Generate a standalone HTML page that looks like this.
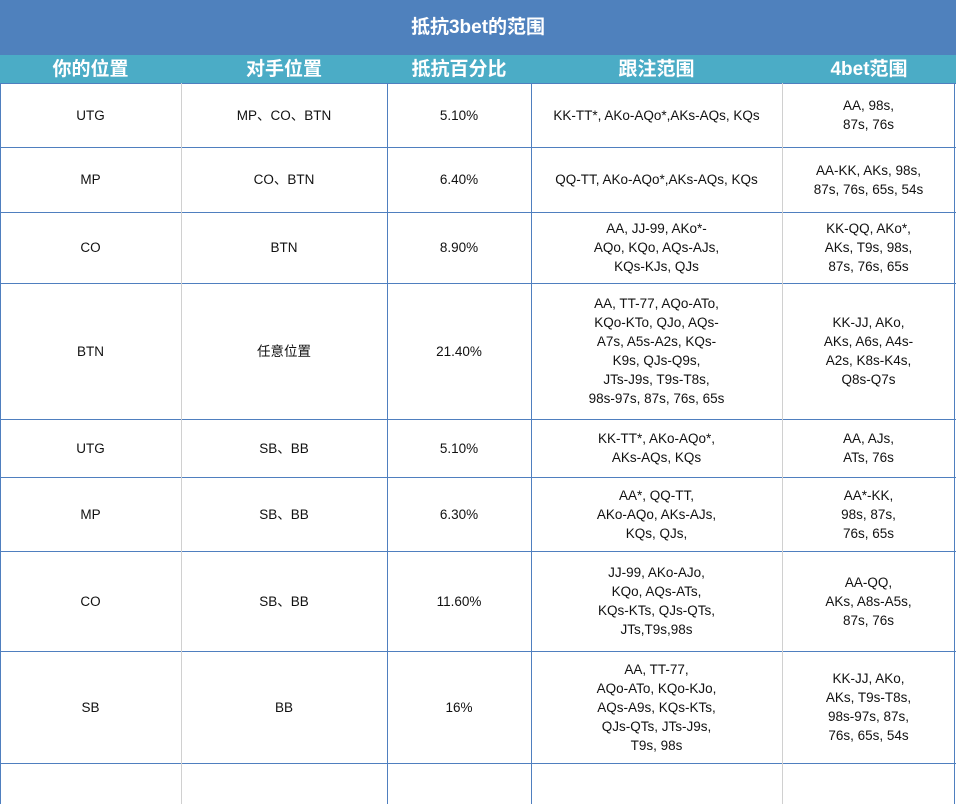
<!DOCTYPE html>
<html><head><meta charset="utf-8"><style>
body{margin:0;width:956px;height:804px;overflow:hidden;background:#fff;font-family:"Liberation Sans","Noto Sans CJK SC",sans-serif}
.c{position:absolute;display:flex;align-items:center;justify-content:center;text-align:center;box-sizing:border-box;font-size:13.5px;line-height:19px;color:#111}
.h{color:#fff;font-weight:bold;font-size:19px;background:#4bacc6}
.hl{position:absolute;left:0;width:956px;height:1px;background:#4f7fbf}
.vl{position:absolute;width:1px}
</style></head><body>
<div class="c" style="left:0;top:0;width:956px;height:55px;background:#4f81bd;color:#fff;font-weight:bold;font-size:19px">抵抗3bet的范围</div>
<div class="c h" style="left:0;top:55px;width:181px;height:28px">你的位置</div>
<div class="c h" style="left:181px;top:55px;width:206px;height:28px">对手位置</div>
<div class="c h" style="left:387px;top:55px;width:144px;height:28px">抵抗百分比</div>
<div class="c h" style="left:531px;top:55px;width:251px;height:28px">跟注范围</div>
<div class="c h" style="left:782px;top:55px;width:174px;height:28px">4bet范围</div>
<div id="rows"></div>
<script>
const tops=[83,147,212,283,419,477,551,651,763,804];
const cols=[0,181,387,531,782,955];
const data=[
["UTG","MP、CO、BTN","5.10%","KK-TT*, AKo-AQo*,AKs-AQs, KQs","AA, 98s,<br>87s, 76s"],
["MP","CO、BTN","6.40%","QQ-TT, AKo-AQo*,AKs-AQs, KQs","AA-KK, AKs, 98s,<br>87s, 76s, 65s, 54s"],
["CO","BTN","8.90%","AA, JJ-99, AKo*-<br>AQo, KQo, AQs-AJs,<br>KQs-KJs, QJs","KK-QQ, AKo*,<br>AKs, T9s, 98s,<br>87s, 76s, 65s"],
["BTN","任意位置","21.40%","AA, TT-77, AQo-ATo,<br>KQo-KTo, QJo, AQs-<br>A7s, A5s-A2s, KQs-<br>K9s, QJs-Q9s,<br>JTs-J9s, T9s-T8s,<br>98s-97s, 87s, 76s, 65s","KK-JJ, AKo,<br>AKs, A6s, A4s-<br>A2s, K8s-K4s,<br>Q8s-Q7s"],
["UTG","SB、BB","5.10%","KK-TT*, AKo-AQo*,<br>AKs-AQs, KQs","AA, AJs,<br>ATs, 76s"],
["MP","SB、BB","6.30%","AA*, QQ-TT,<br>AKo-AQo, AKs-AJs,<br>KQs, QJs,","AA*-KK,<br>98s, 87s,<br>76s, 65s"],
["CO","SB、BB","11.60%","JJ-99, AKo-AJo,<br>KQo, AQs-ATs,<br>KQs-KTs, QJs-QTs,<br>JTs,T9s,98s","AA-QQ,<br>AKs, A8s-A5s,<br>87s, 76s"],
["SB","BB","16%","AA, TT-77,<br>AQo-ATo, KQo-KJo,<br>AQs-A9s, KQs-KTs,<br>QJs-QTs, JTs-J9s,<br>T9s, 98s","KK-JJ, AKo,<br>AKs, T9s-T8s,<br>98s-97s, 87s,<br>76s, 65s, 54s"],
["","","","",""]
];
const names=["your-position","opponent-position","defend-percent","call-range","fourbet-range"];
const R=document.getElementById('rows');
let h='';
data.forEach((r,i)=>{r.forEach((t,j)=>{h+=`<div class="c" style="left:${cols[j]}px;top:${tops[i]}px;width:${cols[j+1]-cols[j]}px;height:${tops[i+1]-tops[i]}px">${t}</div>`;});});
tops.slice(0,9).forEach((y,i)=>{h+=`<div class="hl" style="top:${y}px"></div>`;});
const vcol=["#d0d0d0","#4f7fbf","#4f7fbf","#d0d0d0","#4f7fbf"];
[181,387,531,782,954].forEach((x,i)=>{h+=`<div class="vl" style="left:${x}px;top:83px;height:721px;background:${vcol[i]}"></div>`;});
h+=`<div class="vl" style="left:0;top:83px;height:721px;background:#4f7fbf"></div>`;
R.innerHTML=h;
</script>
</body></html>
